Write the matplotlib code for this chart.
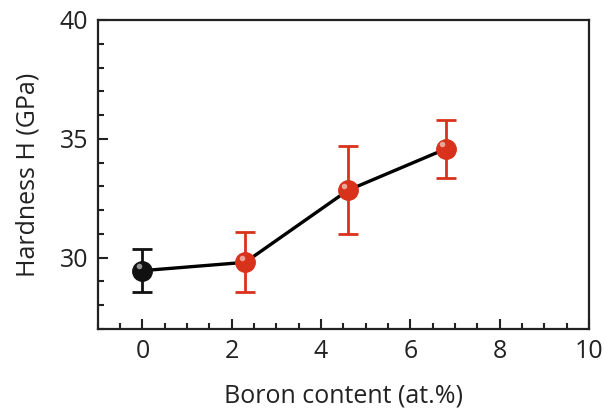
import matplotlib.pyplot as plt
from matplotlib.ticker import MultipleLocator

plt.rcParams['font.family'] = ['Open Sans', 'DejaVu Sans']

# 붕소 함량에 따른 경도
boron = [0, 2.3, 4.6, 6.8]
hardness = [29.45, 29.8, 32.83, 34.58]
err = [0.9, 1.26, 1.85, 1.22]
colors = ["#111111", "#d8321c", "#d8321c", "#d8321c"]

fig = plt.figure(figsize=(6.04, 4.08), dpi=100)
ax = fig.add_axes([0.162, 0.194, 0.813, 0.757])

# 연결선
ax.plot(boron, hardness, color="black", lw=2.4, zorder=2)

# 오차막대 + 구형 마커
for x, y, e, c in zip(boron, hardness, err, colors):
    ax.errorbar(x, y, yerr=e, fmt="none", ecolor=c, elinewidth=2.0,
                capsize=7.5, capthick=2.0, zorder=3)
    ax.plot(x, y, "o", ms=14, color=c, mec=c, zorder=4)
    ax.plot(x - 0.08, y + 0.2, "o", ms=4, color="white", alpha=0.55,
            mec="none", zorder=5)

ax.set_xlim(-1, 10)
ax.set_ylim(27, 40)
ax.xaxis.set_major_locator(MultipleLocator(2))
ax.xaxis.set_minor_locator(MultipleLocator(0.5))
ax.yaxis.set_major_locator(MultipleLocator(5))
ax.yaxis.set_minor_locator(MultipleLocator(1))
ax.tick_params(which="both", direction="in", width=1.5, colors="#222222",
               labelsize=18, top=False, right=False)
ax.tick_params(which="major", length=7, pad=7)
ax.tick_params(which="minor", length=4)
for s in ax.spines.values():
    s.set_linewidth(1.6)
    s.set_color("#222222")

ax.set_xlabel("Boron content (at.%)", fontsize=18, color="#222222", labelpad=14)
ax.set_ylabel("Hardness H (GPa)", fontsize=18, color="#222222", labelpad=14)

fig.savefig("out.png", dpi=100)
